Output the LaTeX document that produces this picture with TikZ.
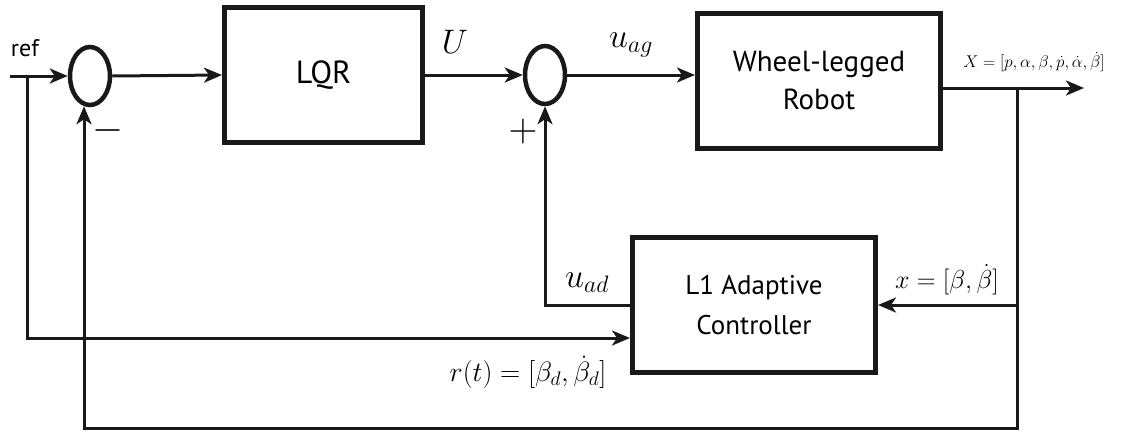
\documentclass[tikz,border=0pt]{standalone}
\usepackage{fix-cm}
\usepackage{fontspec}
\setsansfont{PT Sans}
\usetikzlibrary{arrows.meta,shapes.geometric,calc}
\begin{document}
\begin{tikzpicture}[x=1pt,y=-1pt,
  blk/.style={draw=black!90,line width=5pt,rectangle,align=center,font=\sffamily\fontsize{29}{38}\selectfont,inner sep=0pt},
  sumnode/.style={draw=black!90,line width=4.5pt,ellipse,minimum width=40pt,minimum height=58pt,inner sep=0pt},
  conn/.style={draw=black!90,line width=3pt},
  arr/.style={conn,-{Stealth[length=18pt,width=15pt,inset=5pt]}},
  lab/.style={font=\fontsize{30}{36}\selectfont,inner sep=0pt}
]
\useasboundingbox (0,0) rectangle (1121,432);
% blocks
\node[blk,minimum width=198pt,minimum height=135pt,font=\sffamily\fontsize{32}{38}\selectfont] (lqr) at (323.5,75) {LQR};
\node[blk,minimum width=243pt,minimum height=135pt] (robot) at (819,81) {Wheel-legged\\Robot};
\node[blk,minimum width=243pt,minimum height=135pt,font=\sffamily\fontsize{27}{40}\selectfont] (l1) at (754,305) {L1 Adaptive\\Controller};
\node[sumnode] (s1) at (90,76) {};
\node[sumnode] (s2) at (545,75) {};
% coordinates
\coordinate (in) at (10,76);
\coordinate (b1) at (27,76);
\coordinate (r1) at (27,338);
\coordinate (ro) at ($(robot.east)+(0,7)$);
\coordinate (b2) at (1017,88);
\coordinate (outend) at (1084,88);
\coordinate (b3) at (1017,428);
\coordinate (fb) at (84,428);
% connectors
\draw[arr] (in) -- (s1.west);
\draw[arr] (s1.east) -- (lqr.west);
\draw[arr] (lqr.east) -- (s2.west);
\draw[arr] (s2.east) -- (s2.east -| robot.west);
\draw[arr] (ro) -- (outend);
\draw[arr] (b2) |- (l1.east);
\draw[arr] (b2) -- (b3) -- (fb) -- ($(fb |- s1.south)+(0,-1)$);
\draw[arr] (b1) -- (r1) -- (r1 -| l1.west);
\draw[arr] (l1.west) -| (s2.south);
% labels
\node[font=\sffamily\fontsize{24}{28}\selectfont,inner sep=0pt] (lref) at (25,48) {ref};
\node[lab,font=\fontsize{40}{44}\selectfont] (lminus) at (108,130) {$-$};
\node[lab,font=\fontsize{40}{44}\selectfont] (lplus) at (523,131) {$+$};
\node[lab,font=\fontsize{34}{40}\selectfont] (lU) at (455,42) {$U$};
\node[lab,font=\fontsize{34}{40}\selectfont] (luag) at (631,45) {$u_{ag}$};
\node[lab,font=\fontsize{17}{20}\selectfont] (lX) at (1034,62) {$X=[p,\alpha,\beta,\dot{p},\dot{\alpha},\dot{\beta}]$};
\node[lab,font=\fontsize{34}{40}\selectfont] (luad) at (587,283) {$u_{ad}$};
\node[lab,font=\fontsize{26}{32}\selectfont] (lx) at (947,280) {$x=[\beta,\dot{\beta}]$};
\node[lab,font=\fontsize{28}{34}\selectfont] (lr) at (528,372) {$r(t)=[\beta_d,\dot{\beta}_d]$};
\end{tikzpicture}
\end{document}
